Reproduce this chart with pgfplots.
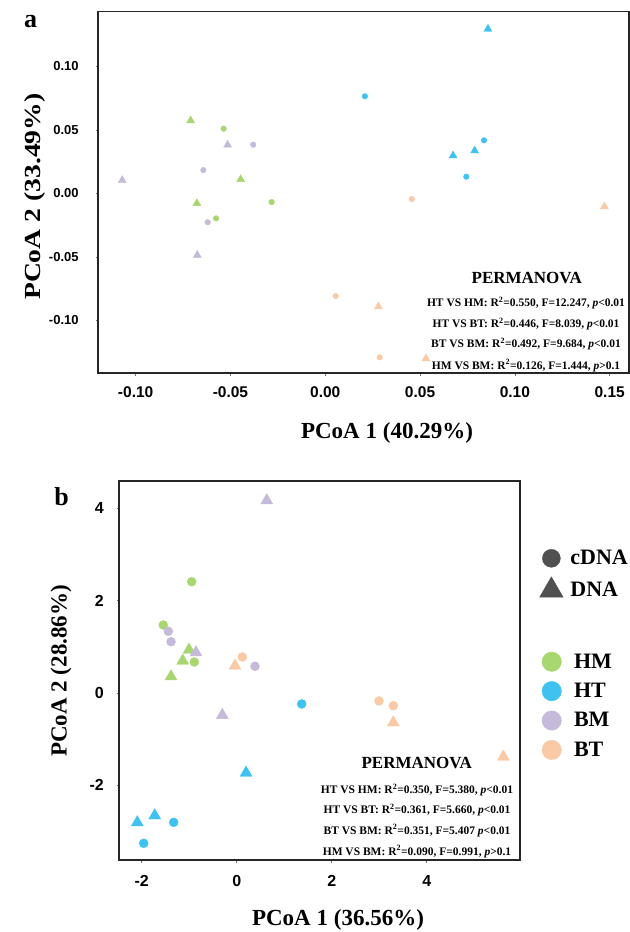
\documentclass[border=0pt]{standalone}
\usepackage{fontspec}
\setmainfont{Liberation Serif}
\newfontfamily\arialfont{Liberation Sans}
\usepackage{pgfplots}
\pgfplotsset{compat=1.18}

\definecolor{hmgreen}{RGB}{168,214,112}
\definecolor{htblue}{RGB}{64,194,240}
\definecolor{bmpurple}{RGB}{197,186,218}
\definecolor{btorange}{RGB}{250,201,166}
\definecolor{shapegray}{RGB}{80,80,80}

\newcommand{\fs}[1]{\fontsize{#1bp}{#1bp}\selectfont}

\pgfplotsset{
  pcoabox/.style={
    scale only axis, anchor=south west,
    axis line style={line width=1.6bp, black!85},
    tick pos=left, tick align=outside, major tick length=2.5bp,
    every tick/.style={black!55, line width=0.5bp},
  },
}

\begin{document}
\begin{tikzpicture}
\useasboundingbox (0bp,0bp) rectangle (630bp,932bp);

% ---------- panel a ----------
\begin{axis}[pcoabox, at={(98.3bp,558.7bp)}, width=530.7bp, height=361.6bp,
  xmin=-0.1197, xmax=0.1602, ymin=-0.1417, ymax=0.1430,
  xtick={-0.1,-0.05,0,0.05,0.1,0.15},
  xticklabels={-0.10,-0.05,0.00,0.05,0.10,0.15},
  ytick={-0.1,-0.05,0,0.05,0.1},
  yticklabels={-0.10,-0.05,0.00,0.05,0.10},
  xticklabel style={font=\arialfont\bfseries\fs{15.5}, inner sep=0pt, anchor=north, yshift=-10.5bp},
  yticklabel style={font=\arialfont\bfseries\fs{13}, inner sep=0pt, anchor=east, xshift=-17bp},
]
\addplot[only marks, mark=*, color=hmgreen, mark size=2.8bp] coordinates
  {(-0.0536,0.0509) (-0.0283,-0.0069) (-0.0576,-0.0197)};
\addplot[only marks, mark=triangle*, color=hmgreen, mark size=4.6bp] coordinates
  {(-0.0710,0.0573) (-0.0446,0.0110) (-0.0677,-0.0079)};
\addplot[only marks, mark=*, color=bmpurple, mark size=2.8bp] coordinates
  {(-0.0380,0.0383) (-0.0643,0.0183) (-0.0620,-0.0228)};
\addplot[only marks, mark=triangle*, color=bmpurple, mark size=4.6bp] coordinates
  {(-0.0515,0.0381) (-0.1071,0.0103) (-0.0675,-0.0486)};
\addplot[only marks, mark=*, color=htblue, mark size=2.8bp] coordinates
  {(0.0209,0.0764) (0.0837,0.0417) (0.0744,0.0131)};
\addplot[only marks, mark=triangle*, color=htblue, mark size=4.6bp] coordinates
  {(0.0858,0.1294) (0.0788,0.0336) (0.0674,0.0297)};
\addplot[only marks, mark=*, color=btorange, mark size=2.8bp] coordinates
  {(0.0456,-0.0045) (0.0055,-0.0809) (0.0287,-0.1291)};
\addplot[only marks, mark=triangle*, color=btorange, mark size=4.6bp] coordinates
  {(0.1472,-0.0104) (0.0280,-0.0892) (0.0531,-0.1301)};
\end{axis}

% ---------- panel b ----------
\begin{axis}[pcoabox, at={(119bp,72bp)}, width=401bp, height=378.7bp,
  xmin=-2.478, xmax=5.964, ymin=-3.615, ymax=4.582,
  xtick={-2,0,2,4}, xticklabels={-2,0,2,4},
  ytick={-2,0,2,4}, yticklabels={-2,0,2,4},
  xticklabel style={font=\arialfont\bfseries\fs{16}, inner sep=0pt, anchor=north, yshift=-13bp},
  yticklabel style={font=\arialfont\bfseries\fs{16}, inner sep=0pt, anchor=east, xshift=-12.5bp},
  legend image code/.code={\draw[#1] plot coordinates {(0bp,0bp)};},
  legend style={at={(1.0549,0.5492)}, anchor=north west, draw=none, fill=none,
    inner sep=0pt, outer sep=0pt, row sep={29.4bp,between origins}, column sep=12.6bp,
    nodes={inner sep=0pt}, font=\bfseries\fs{22}, cells={anchor=west}},
]
\addplot[forget plot, only marks, mark=*, color=hmgreen, mark size=4.5bp] coordinates
  {(-0.947,2.409) (-1.545,1.472) (-0.893,0.671)};
\addplot[forget plot, only marks, mark=triangle*, color=hmgreen, mark size=6.9bp] coordinates
  {(-1.004,0.934) (-1.137,0.696) (-1.383,0.356)};
\addplot[forget plot, only marks, mark=*, color=bmpurple, mark size=4.5bp] coordinates
  {(-1.440,1.335) (-1.383,1.110) (0.385,0.578)};
\addplot[forget plot, only marks, mark=triangle*, color=bmpurple, mark size=6.9bp] coordinates
  {(0.632,4.166) (-0.857,0.876) (-0.303,-0.480)};
\addplot[forget plot, only marks, mark=*, color=htblue, mark size=4.5bp] coordinates
  {(1.368,-0.238) (-1.326,-2.800) (-1.958,-3.253)};
\addplot[forget plot, only marks, mark=triangle*, color=htblue, mark size=6.9bp] coordinates
  {(0.196,-1.728) (-2.093,-2.804) (-1.726,-2.653)};
\addplot[forget plot, only marks, mark=*, color=btorange, mark size=4.5bp] coordinates
  {(0.118,0.779) (2.996,-0.173) (3.297,-0.275)};
\addplot[forget plot, only marks, mark=triangle*, color=btorange, mark size=6.9bp] coordinates
  {(-0.036,0.588) (3.297,-0.640) (5.613,-1.382)};
\addlegendimage{mark=*, mark size=9.7bp, color=hmgreen}
\addlegendentry{HM}
\addlegendimage{mark=*, mark size=9.7bp, color=htblue}
\addlegendentry{HT}
\addlegendimage{mark=*, mark size=9.7bp, color=bmpurple}
\addlegendentry{BM}
\addlegendimage{mark=*, mark size=9.7bp, color=btorange}
\addlegendentry{BT}
\end{axis}

% shape legend (cDNA / DNA)
\begin{axis}[scale only axis, anchor=south west, at={(119bp,72bp)}, width=401bp, height=378.7bp,
  hide axis, xmin=0, xmax=1, ymin=0, ymax=1,
  legend image code/.code={\draw[#1] plot coordinates {(0bp,0bp)};},
  legend style={at={(1.0491,0.8204)}, anchor=north west, draw=none, fill=none,
    inner sep=0pt, outer sep=0pt, row sep={32bp,between origins}, column sep=7.3bp,
    nodes={inner sep=0pt}, font=\bfseries\fs{22}, cells={anchor=west}},
]
\addlegendimage{mark=*, mark size=9bp, color=shapegray}
\addlegendentry{cDNA}
\addlegendimage{mark=triangle*, mark size=13.5bp, color=shapegray}
\addlegendentry{DNA}
\end{axis}

% ---------- labels ----------
\node[font=\bfseries\fs{26}] at (30.7bp,910.3bp) {a};
\node[font=\bfseries\fs{26}] at (61.7bp,435.3bp) {b};
\begin{scope}[shift={(35bp,735.3bp)}]
  \node[rotate=90, xscale=1.2, transform shape, font=\bfseries\fs{23}] at (0,0) {PCoA 2 (33.49\%)};
\end{scope}
\node[rotate=90, font=\bfseries\fs{23}] at (61bp,261bp) {PCoA 2 (28.86\%)};
\node[font=\bfseries\fs{23}] at (387bp,499bp) {PCoA 1 (40.29\%)};
\node[font=\bfseries\fs{23}] at (338bp,12bp) {PCoA 1 (36.56\%)};

% PERMANOVA, panel a
\node[font=\bfseries\fs{17}] at (526.7bp,653.7bp) {PERMANOVA};
\begin{scope}[every node/.style={font=\bfseries\fs{11.5}}]
\node at (526bp,628.7bp) {HT VS HM: R\textsuperscript{2}=0.550, F=12.247, \textit{p}<0.01};
\node at (526bp,608bp) {HT VS BT: R\textsuperscript{2}=0.446, F=8.039, \textit{p}<0.01};
\node at (526bp,587.7bp) {BT VS BM: R\textsuperscript{2}=0.492, F=9.684, \textit{p}<0.01};
\node at (526bp,566.3bp) {HM VS BM: R\textsuperscript{2}=0.126, F=1.444, \textit{p}>0.1};
\end{scope}

% PERMANOVA, panel b
\node[font=\bfseries\fs{17}] at (416.7bp,168.7bp) {PERMANOVA};
\begin{scope}[every node/.style={font=\bfseries\fs{11.5}}]
\node at (417bp,142bp) {HT VS HM: R\textsuperscript{2}=0.350, F=5.380, \textit{p}<0.01};
\node at (417bp,122bp) {HT VS BT: R\textsuperscript{2}=0.361, F=5.660, \textit{p}<0.01};
\node at (417bp,101.3bp) {BT VS BM: R\textsuperscript{2}=0.351, F=5.407 \textit{p}<0.01};
\node at (417bp,80.3bp) {HM VS BM: R\textsuperscript{2}=0.090, F=0.991, \textit{p}>0.1};
\end{scope}
\end{tikzpicture}
\end{document}
